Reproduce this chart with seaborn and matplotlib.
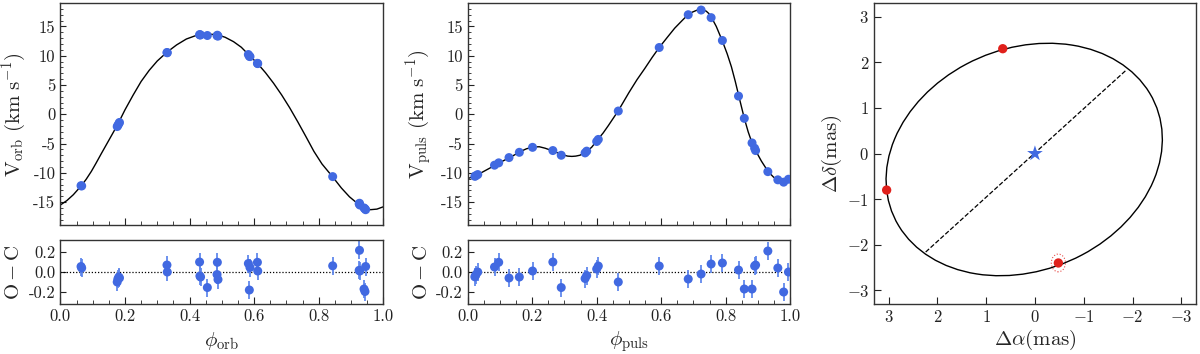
import numpy as np
import pandas as pd
import matplotlib
matplotlib.use("Agg")
import matplotlib.pyplot as plt
import seaborn as sns
from matplotlib.patches import Ellipse
from matplotlib.ticker import MultipleLocator, ScalarFormatter, FormatStrFormatter

# ---------------- data: orbital radial velocities ----------------
orb_phase = [0.064, 0.066, 0.176, 0.178, 0.181, 0.183, 0.330, 0.331,
             0.431, 0.432, 0.434, 0.455, 0.485, 0.486, 0.488,
             0.582, 0.585, 0.587, 0.610, 0.611, 0.843,
             0.925, 0.926, 0.927, 0.940, 0.943, 0.945]
orb_v = [-12.2, -12.25, -2.1, -1.9, -1.6, -1.4, 10.55, 10.5,
         13.6, 13.55, 13.55, 13.45, 13.4, 13.5, 13.35,
         10.2, 9.9, 9.85, 8.7, 8.65, -10.65,
         -15.3, -15.2, -15.5, -16.0, -16.15, -16.3]
orb_oc = [0.055, 0.04, -0.10, -0.07, -0.05, -0.06, 0.07, 0.0,
          0.10, -0.04, -0.05, -0.155, -0.025, 0.097, -0.075,
          0.085, -0.18, 0.045, 0.097, 0.01, 0.062,
          0.017, 0.217, 0.01, -0.17, -0.195, 0.055]
orb_err = [0.09] * len(orb_phase)

orb_model_phase = [0.0, 0.02, 0.04, 0.065, 0.08, 0.096, 0.11, 0.127, 0.15,
                   0.176, 0.2, 0.225, 0.25, 0.275, 0.3, 0.33, 0.36, 0.39,
                   0.42, 0.45, 0.47, 0.49, 0.51, 0.536, 0.56, 0.585, 0.61,
                   0.635, 0.66, 0.685, 0.71, 0.735, 0.76, 0.785, 0.81,
                   0.843, 0.87, 0.895, 0.92, 0.94, 0.96, 0.98, 1.0]
orb_model_v = [-15.5, -14.75, -13.75, -12.2, -11.1, -9.75, -8.4, -6.7, -4.45,
               -1.9, 0.75, 3.25, 5.6, 7.5, 9.1, 10.6, 11.85, 12.85,
               13.45, 13.65, 13.65, 13.5, 13.15, 12.4, 11.45, 10.05, 8.7,
               7.1, 5.3, 3.3, 1.1, -1.3, -3.8, -6.35, -8.5,
               -10.7, -12.6, -14.1, -15.25, -15.95, -16.3, -16.2, -15.8]

# ---------------- data: pulsation radial velocities ----------------
puls_phase = [0.022, 0.025, 0.031, 0.083, 0.096, 0.128, 0.160, 0.201,
              0.264, 0.290, 0.364, 0.369, 0.400, 0.405, 0.467, 0.594,
              0.684, 0.724, 0.755, 0.790, 0.840, 0.858, 0.882, 0.890,
              0.893, 0.931, 0.962, 0.980, 0.995]
puls_v = [-10.6, -10.5, -10.3, -8.7, -8.3, -7.4, -6.5, -5.65,
          -6.2, -7.0, -6.6, -6.3, -4.65, -4.3, 0.55, 11.4,
          17.0, 17.8, 16.5, 12.6, 3.1, -0.7, -4.9, -5.8,
          -6.2, -9.8, -11.2, -11.6, -11.1]
puls_oc = [-0.048, -0.03, 0.0, 0.05, 0.097, -0.06, -0.05, 0.01,
           0.10, -0.155, -0.065, -0.035, 0.03, 0.06, -0.10, 0.06,
           -0.07, -0.02, 0.08, 0.09, 0.02, -0.17, -0.17, 0.06,
           0.07, 0.21, 0.04, -0.20, 0.0]
puls_err = [0.09] * len(puls_phase)

puls_model_phase = [0.0, 0.028, 0.055, 0.085, 0.105, 0.126, 0.145, 0.162,
                    0.182, 0.202, 0.222, 0.240, 0.266, 0.292, 0.31, 0.323,
                    0.335, 0.348, 0.369, 0.385, 0.402, 0.42, 0.436, 0.467,
                    0.50, 0.525, 0.549, 0.572, 0.594, 0.62, 0.642, 0.665,
                    0.683, 0.695, 0.71, 0.723, 0.732, 0.740, 0.748, 0.756,
                    0.771, 0.790, 0.805, 0.818, 0.83, 0.841, 0.858, 0.870,
                    0.882, 0.892, 0.911, 0.932, 0.948, 0.963, 0.981, 1.0]
puls_model_v = [-11.0, -10.4, -9.6, -8.7, -8.1, -7.5, -6.95, -6.4,
                -5.9, -5.6, -5.55, -5.8, -6.3, -6.9, -7.15, -7.2,
                -7.15, -7.0, -6.4, -5.6, -4.4, -3.2, -1.95, 0.6,
                3.7, 5.9, 7.8, 9.7, 11.4, 13.2, 14.7, 16.0,
                17.0, 17.4, 17.75, 17.9, 17.8, 17.6, 17.2, 16.55,
                15.0, 12.5, 10.3, 8.1, 5.6, 3.1, -0.7, -3.0,
                -4.9, -6.1, -8.0, -9.8, -10.7, -11.3, -11.7, -11.1]

# ---------------- data: astrometric orbit ----------------
orbit_center = (0.22, -0.13)
orbit_axes = (5.91, 4.81)        # full major / minor axis (mas)
orbit_angle = -29.5              # degrees
node_ra = [2.24, -1.86]
node_dec = [-2.16, 1.82]
obs_ra = [0.66, 3.04, -0.48]
obs_dec = [2.30, -0.80, -2.40]
obs_err_w = [0.10, 0.10, 0.29]
obs_err_h = [0.10, 0.10, 0.39]
star_ra = [0.0]
star_dec = [0.0]

# ---------------- style ----------------
sns.set_style("ticks")
plt.rcParams.update({
    "font.family": "serif",
    "font.serif": ["cmr10", "DejaVu Serif"],
    "mathtext.fontset": "cm",
    "axes.unicode_minus": False,
    "axes.formatter.use_mathtext": False,
    "axes.linewidth": 1.0,
    "axes.edgecolor": "#333333",
    "xtick.direction": "in",
    "ytick.direction": "in",
    "xtick.major.size": 5, "xtick.minor.size": 3,
    "ytick.major.size": 4.5, "ytick.minor.size": 2.5,
    "xtick.labelsize": 12, "ytick.labelsize": 12,
    "xtick.color": "#222222", "ytick.color": "#222222",
})

BLUE = "#4169E1"
ERRC = "#5d86ec"
RED = "#e0201b"

fig = plt.figure(figsize=(12, 3.54), dpi=100)
ax1 = fig.add_axes([0.0503, 0.363, 0.2692, 0.6285])
ax1r = fig.add_axes([0.0503, 0.1412, 0.2692, 0.1808])
ax2 = fig.add_axes([0.3898, 0.363, 0.2686, 0.6285])
ax2r = fig.add_axes([0.3898, 0.1412, 0.2686, 0.1808])
ax3 = fig.add_axes([0.7283, 0.1412, 0.2683, 0.850])

orb_df = pd.DataFrame({"phase": orb_phase, "v": orb_v, "oc": orb_oc, "err": orb_err})
orb_mod = pd.DataFrame({"phase": orb_model_phase, "v": orb_model_v})
puls_df = pd.DataFrame({"phase": puls_phase, "v": puls_v, "oc": puls_oc, "err": puls_err})
puls_mod = pd.DataFrame({"phase": puls_model_phase, "v": puls_model_v})


def rv_panels(ax, axr, df, mod, ylab, xlab):
    sns.lineplot(data=mod, x="phase", y="v", ax=ax, color="black", lw=1.0,
                 estimator=None, sort=True)
    sns.scatterplot(data=df, x="phase", y="v", ax=ax, color=BLUE, s=42,
                    edgecolor="none", zorder=3)
    ax.set_xlim(0, 1)
    ax.set_ylim(-19, 19)
    ax.yaxis.set_major_locator(MultipleLocator(5))
    ax.yaxis.set_minor_locator(MultipleLocator(1))
    ax.xaxis.set_major_locator(MultipleLocator(0.2))
    ax.xaxis.set_minor_locator(MultipleLocator(0.05))
    ax.tick_params(axis="x", labelbottom=False)
    ax.set_xlabel("")
    ax.set_ylabel(ylab, fontsize=15, labelpad=4)

    axr.axhline(0, color="black", lw=0.9, ls=(0, (1, 1.5)))
    axr.errorbar(df["phase"], df["oc"], yerr=df["err"], fmt="none",
                 ecolor=ERRC, elinewidth=1.4, alpha=0.9, zorder=2)
    sns.scatterplot(data=df, x="phase", y="oc", ax=axr, color=BLUE, s=42,
                    edgecolor="none", zorder=3)
    axr.set_xlim(0, 1)
    axr.set_ylim(-0.32, 0.32)
    axr.yaxis.set_major_locator(MultipleLocator(0.2))
    axr.xaxis.set_major_locator(MultipleLocator(0.2))
    axr.xaxis.set_minor_locator(MultipleLocator(0.05))
    axr.xaxis.set_major_formatter(FormatStrFormatter("%.1f"))
    axr.yaxis.set_major_formatter(FormatStrFormatter("%.1f"))
    axr.set_ylabel(r"$\mathrm{O-C}$", fontsize=15, labelpad=4)
    axr.set_xlabel(xlab, fontsize=15, labelpad=4)


rv_panels(ax1, ax1r, orb_df, orb_mod,
          r"$\mathrm{V_{orb}\ (km\ s^{-1})}$", r"$\phi_{\mathrm{orb}}$")
rv_panels(ax2, ax2r, puls_df, puls_mod,
          r"$\mathrm{V_{puls}\ (km\ s^{-1})}$", r"$\phi_{\mathrm{puls}}$")

# ---------------- astrometric panel ----------------
ax3.add_patch(Ellipse(orbit_center, orbit_axes[0], orbit_axes[1],
                      angle=orbit_angle, fill=False, color="black", lw=1.0))
node_df = pd.DataFrame({"ra": node_ra, "dec": node_dec})
sns.lineplot(data=node_df, x="ra", y="dec", ax=ax3, color="black", lw=0.9,
             ls="--", estimator=None, sort=False)
for x, y, w, h in zip(obs_ra, obs_dec, obs_err_w, obs_err_h):
    ax3.add_patch(Ellipse((x, y), w, h, fill=False, color=RED, lw=0.8,
                          ls=":", alpha=0.8))
obs_df = pd.DataFrame({"ra": obs_ra, "dec": obs_dec})
sns.scatterplot(data=obs_df, x="ra", y="dec", ax=ax3, color=RED, s=45,
                edgecolor="none", zorder=4)
star_df = pd.DataFrame({"ra": star_ra, "dec": star_dec})
sns.scatterplot(data=star_df, x="ra", y="dec", ax=ax3, color=BLUE, s=140,
                marker="*", edgecolor="none", zorder=5)
ax3.set_xlim(3.3, -3.3)
ax3.set_ylim(-3.3, 3.3)
ax3.xaxis.set_major_locator(MultipleLocator(1))
ax3.yaxis.set_major_locator(MultipleLocator(1))
ax3.xaxis.set_major_formatter(ScalarFormatter(useMathText=True))
ax3.yaxis.set_major_formatter(ScalarFormatter(useMathText=True))
ax3.tick_params(axis="both", which="major", length=5)
ax3.set_xlabel(r"$\Delta\alpha(\mathrm{mas})$", fontsize=15, labelpad=2)
ax3.set_ylabel(r"$\Delta\delta(\mathrm{mas})$", fontsize=15, labelpad=2)

fig.savefig("out.png", dpi=100)
